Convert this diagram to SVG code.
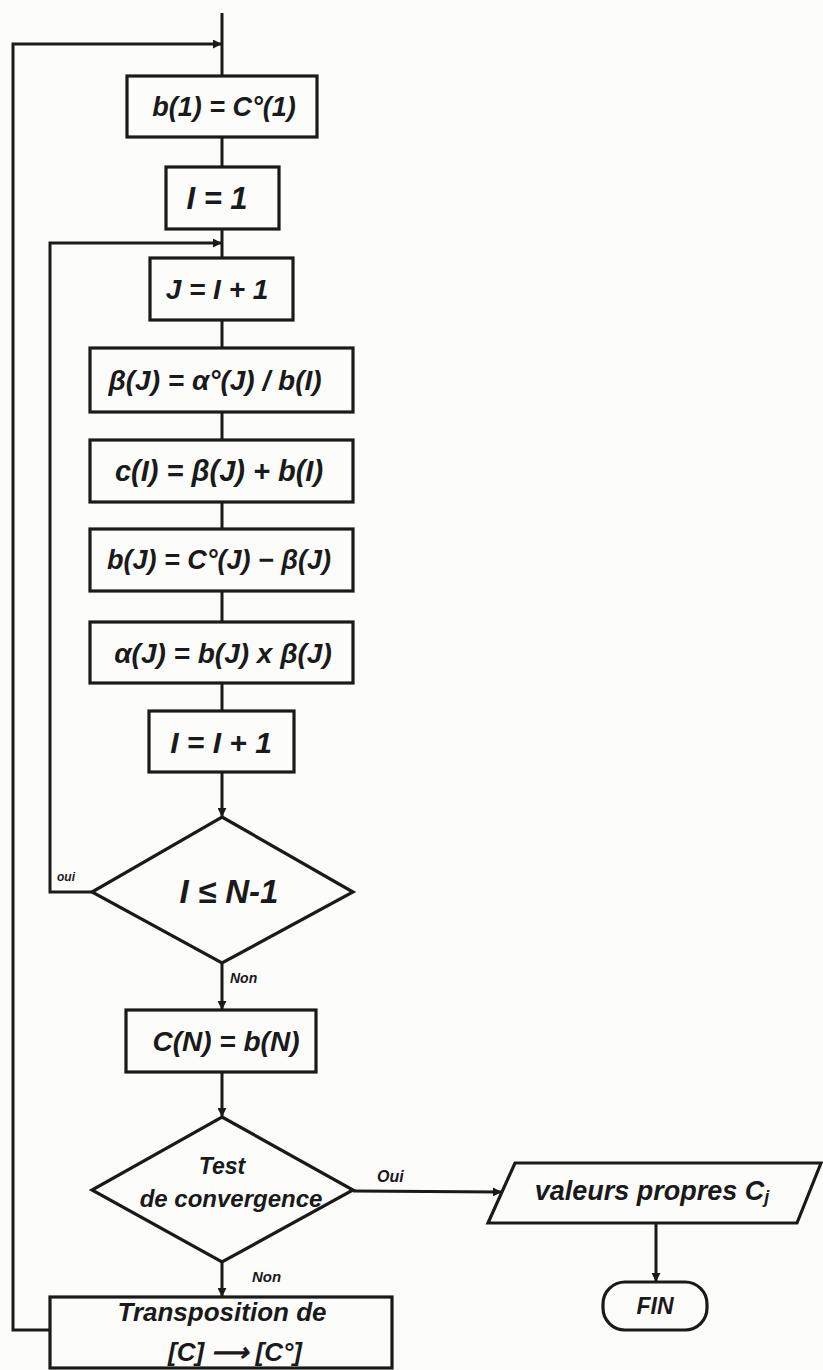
<svg xmlns="http://www.w3.org/2000/svg" width="823" height="1370" viewBox="0 0 823 1370">
<defs>
<marker id="arr" viewBox="0 0 10 10" refX="9" refY="5" markerWidth="9" markerHeight="9" markerUnits="userSpaceOnUse" orient="auto">
<path d="M0,0 L10,5 L0,10 z" fill="#1a1a1a"/>
</marker>
<style>
.shape{fill:#fcfcfa;stroke:#1a1a1a;stroke-width:3.2}
.line{fill:none;stroke:#1a1a1a;stroke-width:3}
.t{font-family:"Liberation Sans",Arial,sans-serif;font-style:italic;font-weight:bold;fill:#1a1a1a;text-anchor:middle;dominant-baseline:central}
.lbl{font-family:"Liberation Sans",Arial,sans-serif;font-style:italic;font-weight:bold;fill:#1a1a1a}
</style>
</defs>
<rect width="823" height="1370" fill="#fcfcfa"/>
<g id="connectors">
<line class="line" x1="222" y1="13" x2="222" y2="76"/>
<line class="line" x1="222" y1="137" x2="222" y2="167"/>
<line class="line" x1="222" y1="229" x2="222" y2="258"/>
<line class="line" x1="222" y1="320" x2="222" y2="348"/>
<line class="line" x1="222" y1="412" x2="222" y2="440"/>
<line class="line" x1="222" y1="502" x2="222" y2="529"/>
<line class="line" x1="222" y1="591" x2="222" y2="622"/>
<line class="line" x1="222" y1="683" x2="222" y2="711"/>
<line class="line" x1="222" y1="772" x2="222" y2="816" marker-end="url(#arr)"/>
<polyline class="line" points="92,892 50,892 50,243 221,243" marker-end="url(#arr)"/>
<line class="line" x1="222" y1="963" x2="222" y2="1009" marker-end="url(#arr)"/>
<line class="line" x1="222" y1="1072" x2="222" y2="1116" marker-end="url(#arr)"/>
<line class="line" x1="222" y1="1262" x2="222" y2="1296" marker-end="url(#arr)"/>
<polyline class="line" points="50,1330 13,1330 13,44 221,44" marker-end="url(#arr)"/>
<line class="line" x1="353" y1="1191" x2="501" y2="1192" marker-end="url(#arr)"/>
<line class="line" x1="656" y1="1223" x2="656" y2="1281" marker-end="url(#arr)"/>
</g>
<g id="n1"><rect class="shape" x="127" y="76" width="190" height="61"/><text class="t" x="224" y="107" font-size="27">b(1) = C°(1)</text></g>
<g id="n2"><rect class="shape" x="166" y="167" width="113" height="62"/><text class="t" x="217" y="198" font-size="31">I = 1</text></g>
<g id="n3"><rect class="shape" x="150" y="258" width="143" height="62"/><text class="t" x="217" y="289" font-size="28">J = I + 1</text></g>
<g id="n4"><rect class="shape" x="90" y="348" width="263" height="64"/><text class="t" x="215" y="380" font-size="28">β(J) = α°(J) / b(I)</text></g>
<g id="n5"><rect class="shape" x="90" y="440" width="263" height="62"/><text class="t" x="219" y="471" font-size="29">c(I) = β(J) + b(I)</text></g>
<g id="n6"><rect class="shape" x="90" y="529" width="263" height="62"/><text class="t" x="219" y="560" font-size="27">b(J) = C°(J) − β(J)</text></g>
<g id="n7"><rect class="shape" x="90" y="622" width="263" height="61"/><text class="t" x="223" y="653" font-size="28">α(J) = b(J) x β(J)</text></g>
<g id="n8"><rect class="shape" x="149" y="711" width="145" height="61"/><text class="t" x="221" y="742" font-size="30">I = I + 1</text></g>
<g id="d1"><polygon class="shape" points="222,817 353,892 222,963 92,892"/><text class="t" x="229" y="891" font-size="33">I ≤ N-1</text></g>
<g id="lbl-oui"><text class="lbl" x="57" y="881" font-size="12">oui</text></g>
<g id="lbl-non1"><text class="lbl" x="230" y="983" font-size="14">Non</text></g>
<g id="n9"><rect class="shape" x="126" y="1010" width="190" height="62"/><text class="t" x="226" y="1041" font-size="28">C(N) = b(N)</text></g>
<g id="d2"><polygon class="shape" points="222,1117 353,1190 222,1262 92,1190"/><text class="t" x="222" y="1166" font-size="23">Test</text><text class="t" x="231" y="1198" font-size="24">de convergence</text></g>
<g id="lbl-oui2"><text class="lbl" x="377" y="1182" font-size="16">Oui</text></g>
<g id="lbl-non2"><text class="lbl" x="252" y="1282" font-size="15">Non</text></g>
<g id="n10"><rect class="shape" x="50" y="1297" width="342" height="71"/><text class="t" x="222" y="1312" font-size="26">Transposition de</text><text class="t" x="235" y="1352" font-size="26">[C] ⟶ [C°]</text></g>
<g id="n11"><polygon class="shape" points="515,1163 821,1163 797,1223 488,1223"/><text class="t" x="652" y="1191" font-size="27">valeurs propres C<tspan font-size="18" dy="6">j</tspan></text></g>
<g id="n12"><rect class="shape" x="603" y="1282" width="104" height="48" rx="22" ry="22"/><text class="t" x="655" y="1306" font-size="23">FIN</text></g>
</svg>
